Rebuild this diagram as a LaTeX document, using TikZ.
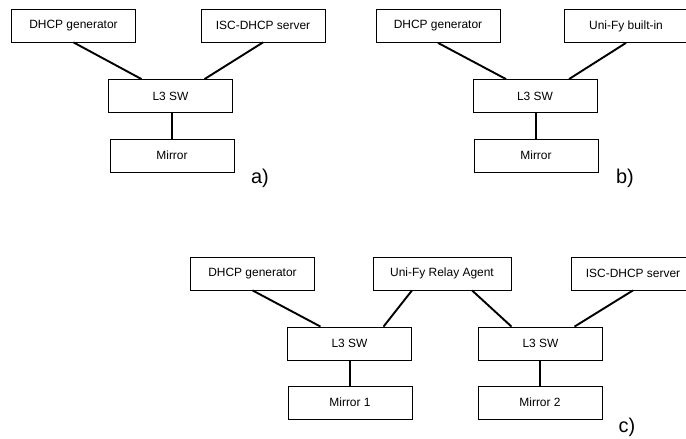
\documentclass[tikz,border=0pt]{standalone}
\usepackage{fontspec}
\setmainfont{Liberation Sans}

\begin{document}
\begin{tikzpicture}[x=1bp,y=-1bp,
  box/.style={draw, line width=0.8bp, minimum width=124bp, minimum height=33bp,
    inner sep=0pt, font=\fontsize{12}{14}\selectfont},
  link/.style={line width=1.9bp},
  tag/.style={font=\fontsize{20}{24}\selectfont}]
  \useasboundingbox (0,0) rectangle (686,439);
  \clip (0,0) rectangle (686,439);

  % Setup a)
  \node[box] (gena) at (73.5,25.5) {DHCP generator};
  \node[box] (isca) at (263,25.5) {ISC-DHCP server};
  \node[box] (swa) at (170.5,96) {L3 SW};
  \node[box] (mira) at (172,155.5) {Mirror};
  \node[tag] (taga) at (260,178) {a)};

  % Setup b)
  \node[box] (genb) at (438,26) {DHCP generator};
  \node[box] (unib) at (626,26) {Uni-Fy built-in};
  \node[box] (swb) at (535,96) {L3 SW};
  \node[box] (mirb) at (536,155.5) {Mirror};
  \node[tag] (tagb) at (625,178) {b)};

  % Setup c)
  \node[box] (genc) at (252.5,273.5) {DHCP generator};
  \node[box, minimum width=138bp] (relay) at (442,273.5) {Uni-Fy Relay Agent};
  \node[box] (iscc) at (633,273.5) {ISC-DHCP server};
  \node[box] (swl) at (349.5,343.5) {L3 SW};
  \node[box] (swr) at (540.5,343.5) {L3 SW};
  \node[box] (mir1) at (350,402.5) {Mirror 1};
  \node[box] (mir2) at (540,402.5) {Mirror 2};
  \node[tag] (tagc) at (627,427) {c)};

  % Links
  \foreach \up/\sw in {gena/swa, genb/swb, genc/swl}
    \draw[link] (\up.south) -- ([xshift=-29bp]\sw.north);
  \foreach \up/\sw in {isca/swa, unib/swb, iscc/swr}
    \draw[link] (\up.south) -- ([xshift=34bp]\sw.north);
  \draw[link] ([xshift=-30bp]relay.south) -- ([xshift=34bp]swl.north);
  \draw[link] ([xshift=30bp]relay.south) -- ([xshift=-29bp]swr.north);
  \foreach \sw/\mir in {swa/mira, swb/mirb, swl/mir1, swr/mir2}
    \draw[link] (\mir.north |- \sw.south) -- (\mir.north);
\end{tikzpicture}
\end{document}
